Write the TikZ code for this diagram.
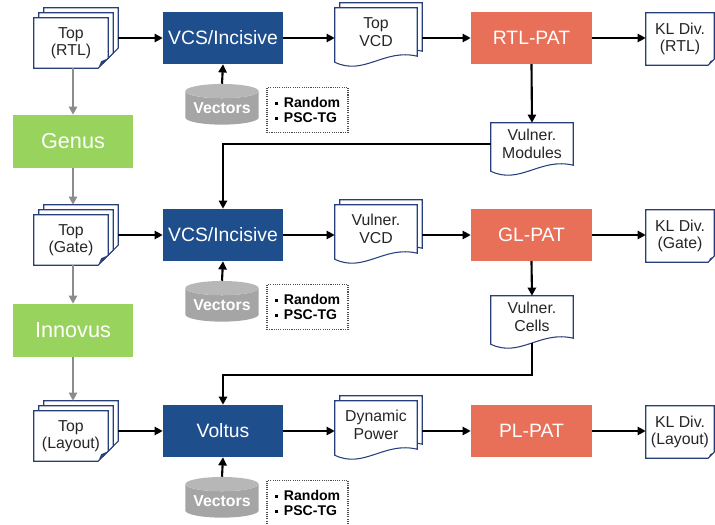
\documentclass[tikz,border=0pt]{standalone}
\usepackage{fontspec}
\setmainfont{Liberation Sans}
\usetikzlibrary{arrows.meta, shapes.geometric, backgrounds, positioning}

\definecolor{toolblue}{RGB}{31,78,141}
\definecolor{patred}{RGB}{233,112,88}
\definecolor{synthgreen}{RGB}{152,211,94}
\definecolor{docblue}{RGB}{38,62,122}
\definecolor{vecgray}{RGB}{165,165,165}
\definecolor{flowgray}{RGB}{140,140,140}

\newcommand\optbullet{\raisebox{0.3ex}{\rule{2.8pt}{2.8pt}}\hspace{5pt}}

\tikzset{
	every stage/.style={
		rectangle,
		minimum width=3.6cm,
		minimum height=1.56cm,
		text=white,
		font=\fontsize{16.5}{18}\selectfont },
	stage tool/.style={fill=toolblue},
	stage pat/.style={fill=patred, minimum width=3.63cm},
	stage synth/.style={
		fill=synthgreen,
		minimum height=1.59cm,
		font=\fontsize{18.5}{20}\selectfont },
	every doc/.style={
		rectangle,
		align=center,
		inner sep=0pt,
		text=black!85,
		font=\fontsize{13.5}{15}\selectfont },
	doc stack/.style={minimum width=2.22cm, minimum height=1.5cm},
	doc wave/.style={minimum width=2.46cm, minimum height=1.44cm},
	doc vul/.style={minimum width=2.46cm, minimum height=1.26cm},
	doc kl/.style={minimum width=2.04cm, minimum height=1.56cm},
	vectors/.style={
		cylinder,
		shape border rotate=90,
		aspect=0.25,
		minimum width=2.2cm,
		minimum height=1.22cm,
		inner sep=0pt,
		cylinder uses custom fill,
		cylinder body fill=vecgray,
		cylinder end fill=vecgray!80!white,
		text=white,
		font=\bfseries\fontsize{13.5}{15}\selectfont },
	options/.style={
		rectangle,
		draw=black!70,
		densely dotted,
		line width=0.9pt,
		align=left,
		minimum width=2.43cm,
		minimum height=1.35cm,
		font=\bfseries\fontsize{12}{13}\selectfont },
	docline/.style={draw=docblue, line width=0.9pt, fill=white},
	flow/.style={line width=1.8pt, -{Triangle[length=7pt,width=7pt]}},
	synth flow/.style={flow, draw=flowgray},
}

\begin{document}
\begin{tikzpicture}[x=0.03cm, y=0.03cm]

		\useasboundingbox (0,0) rectangle (715,525);

		\foreach \y/\tool/\pat/\lvl/\dump [count=\r] in {
			487/{VCS/Incisive}/RTL-PAT/RTL/{Top\\VCD},
			290/{VCS/Incisive}/GL-PAT/Gate/{Vulner.\\VCD},
			94/Voltus/PL-PAT/Layout/{Dynamic\\Power}}
		{
		\node [every doc/.try, doc stack] (top-\r) at (71,\y-5) {Top\\(\lvl)};
		\node [every stage/.try, stage tool] (tool-\r) at (223,\y) {\tool};
		\node [vectors] (vec-\r) at (222,\y-70) {Vectors};
		\node [options] (opt-\r) at (307.5,\y-72) {\optbullet Random\\\optbullet PSC-TG};
		\node [every doc/.try, doc wave] (dump-\r) at (376,\y+6) {\dump};
		\node [every stage/.try, stage pat] (pat-\r) at (531.5,\y) {\pat};
		\node [every doc/.try, doc kl] (kl-\r) at (680,\y-1) {KL Div.\\(\lvl)};
		}

		\node [every stage/.try, stage synth] (genus) at (73,383.5) {Genus};
		\node [every stage/.try, stage synth] (innovus) at (73,194.5) {Innovus};

		\node [every doc/.try, doc vul] (vul-1) at (532,381) {Vulner.\\Modules};
		\node [every doc/.try, doc vul] (vul-2) at (532,208) {Vulner.\\Cells};
		\coordinate (loop-2) at (532,150);

		% page outlines behind the labels
		\begin{pgfonlayer}{background}
		\foreach \r in {1,2,3} {
			\foreach \o in {10,5,0}
			\draw [docline] ([shift={(\o,\o)}]top-\r.north west) -- ([shift={(\o,\o)}]top-\r.north east)
				-- ([shift={(\o,\o+10)}]top-\r.south east) -- ([shift={(\o-10,\o)}]top-\r.south east)
				-- ([shift={(\o,\o)}]top-\r.south west) -- cycle;
			\fill [docblue] ([shift={(-10,0)}]top-\r.south east) -- ([shift={(0,10)}]top-\r.south east)
				-- ([shift={(-7,7)}]top-\r.south east) -- cycle;

			\foreach \o in {5,0}
			\draw [docline] ([shift={(\o,\o)}]dump-\r.north west) -- ([shift={(\o,\o)}]dump-\r.north east)
				-- ([shift={(\o,\o)}]dump-\r.south east) .. controls +(-33,8) and +(29,-14)
				.. ([shift={(\o,\o-6)}]dump-\r.south west) -- cycle;

			\draw [docline] (kl-\r.north west) -- (kl-\r.north east) -- ([shift={(0,6)}]kl-\r.south east)
				-- ([shift={(-6,0)}]kl-\r.south east) -- (kl-\r.south west) -- cycle;
			\fill [docblue] ([shift={(-6,0)}]kl-\r.south east) -- ([shift={(0,6)}]kl-\r.south east)
				-- ([shift={(-4,4)}]kl-\r.south east) -- cycle;
		}
		\foreach \n in {vul-1,vul-2}
		\draw [docline] (\n.north west) -- (\n.north east) -- (\n.south east)
			.. controls +(-33,8) and +(29,-14) .. ([shift={(0,-6)}]\n.south west) -- cycle;
		\end{pgfonlayer}

		\foreach \r in {1,2,3} {
		\draw [flow] ([xshift=0.3cm]top-\r.east |- tool-\r.west) -- (tool-\r.west);
		\draw [flow] (tool-\r.east) -- (tool-\r.east -| dump-\r.west);
		\draw [flow] ([xshift=0.15cm]dump-\r.east |- pat-\r.west) -- (pat-\r.west);
		\draw [flow] (pat-\r.east) -- (pat-\r.east -| kl-\r.west);
		\draw [flow] (vec-\r.north) -- (tool-\r.south);
		}

		\draw [flow] (pat-1.south) -- (vul-1.north);
		\draw [flow] (pat-2.south) -- (vul-2.north);
		\draw [flow] (vul-1.west) -| (tool-2.north);
		\draw [flow] ([yshift=-0.15cm]vul-2.south) -- (loop-2) -| (tool-3.north);

		\draw [synth flow] (genus.north |- top-1.south) -- (genus.north);
		\draw [synth flow] (genus.south) -- ([yshift=0.3cm]genus.south |- top-2.north);
		\draw [synth flow] (genus.north |- top-2.south) -- (innovus.north);
		\draw [synth flow] (innovus.south) -- ([yshift=0.3cm]innovus.south |- top-3.north);
	\end{tikzpicture}
\end{document}
